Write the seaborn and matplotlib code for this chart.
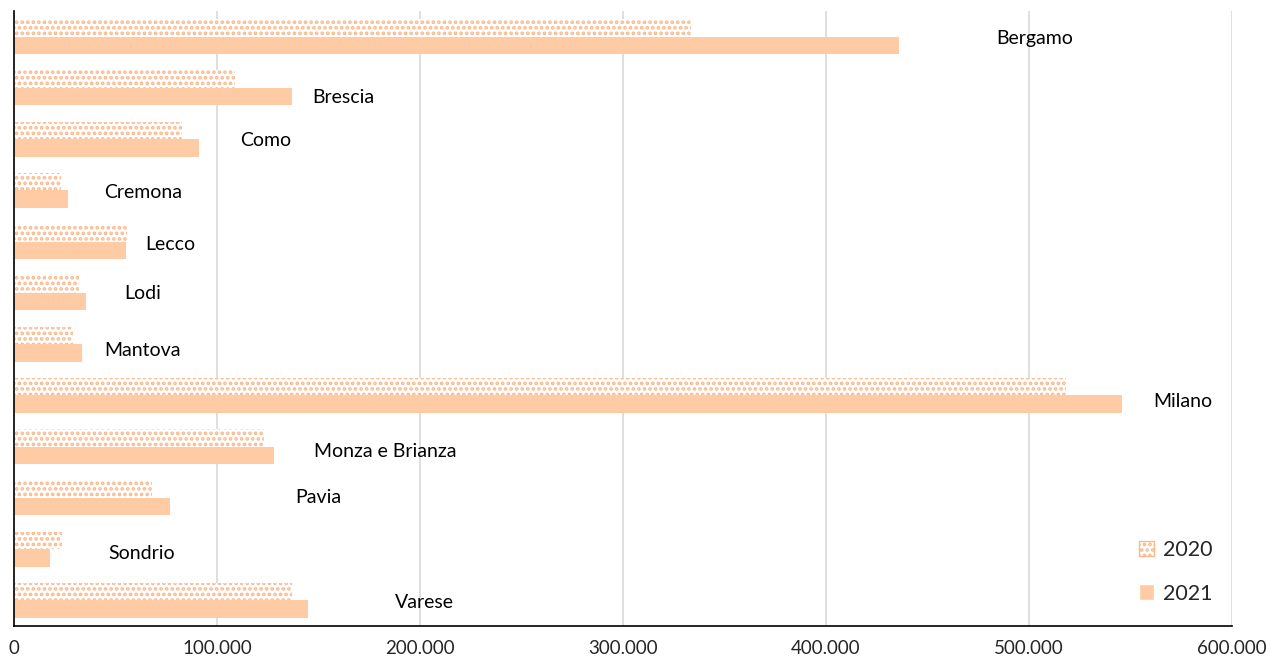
import pandas as pd
import seaborn as sns
import matplotlib.pyplot as plt
from matplotlib.ticker import FuncFormatter, MultipleLocator

province = ["Bergamo", "Brescia", "Como", "Cremona", "Lecco", "Lodi", "Mantova",
            "Milano", "Monza e Brianza", "Pavia", "Sondrio", "Varese"]
val_2020 = [333500, 109000, 83000, 23000, 55500, 32000, 29000,
            518000, 123000, 68000, 23600, 137000]
val_2021 = [436000, 137000, 91000, 26600, 55000, 35500, 33500,
            546000, 128000, 77000, 17700, 145000]

# dove stanno le etichette delle province (come nel grafico originale)
label_x = [503000, 162000, 124000, 63500, 77000, 63500, 63500,
           576000, 183000, 150000, 63000, 202000]
label_dy = [0.04, 0.18, 0.02, 0.04, 0.06, 0.02, 0.12, 0.12, 0.10, 0.0, 0.08, 0.04]

df = pd.DataFrame({
    "provincia": province * 2,
    "anno": ["2020"] * len(province) + ["2021"] * len(province),
    "valore": val_2020 + val_2021,
})

sns.set_theme(style="white")
plt.rcParams["font.family"] = ["Lato", "DejaVu Sans"]
plt.rcParams["hatch.linewidth"] = 1.8

pesca = "#FFCBA4"
fig = plt.figure(figsize=(12.71, 6.62), dpi=100)
ax = fig.add_axes([0.011, 0.0544, 0.9583, 0.929])

sns.barplot(data=df, y="provincia", x="valore", hue="anno", orient="h",
            palette=[pesca, pesca], width=0.68, saturation=1, ax=ax)

for p in ax.containers[0]:
    p.set_facecolor("white")
    p.set_edgecolor("#F9B98C")
    p.set_hatch("...")
    p.set_linewidth(0)
for p in ax.containers[1]:
    p.set_linewidth(0)

for i, nome in enumerate(province):
    ax.text(label_x[i], i + label_dy[i], nome, ha="center", va="center",
            fontsize=14, color="#000000")

ax.set_xlim(0, 600000)
ax.set_ylim(len(province) - 0.5, -0.5)
ax.xaxis.set_major_locator(MultipleLocator(100000))
ax.xaxis.set_major_formatter(FuncFormatter(lambda v, _: f"{int(v):,}".replace(",", ".")))
ax.grid(axis="x", color="#D9D9D9", linewidth=1.2)
ax.set_axisbelow(True)
ax.set_yticks([])
ax.set_xlabel("")
ax.set_ylabel("")
ax.tick_params(axis="x", length=0, pad=10, labelsize=13.5)
for s in ["top", "right"]:
    ax.spines[s].set_visible(False)
ax.spines["left"].set_color("#000000")
ax.spines["bottom"].set_color("#000000")
ax.spines["left"].set_linewidth(1.2)
ax.spines["bottom"].set_linewidth(1.2)

leg = ax.legend(loc="lower right", frameon=False, fontsize=15.5, handlelength=0.7,
                handleheight=0.7, labelspacing=1.1, handletextpad=0.4,
                bbox_to_anchor=(1.0, 0.005))
h = leg.legend_handles[0]
h.set_facecolor("white")
h.set_edgecolor("#F9B98C")
h.set_hatch("...")

fig.savefig("out.png", dpi=100)
